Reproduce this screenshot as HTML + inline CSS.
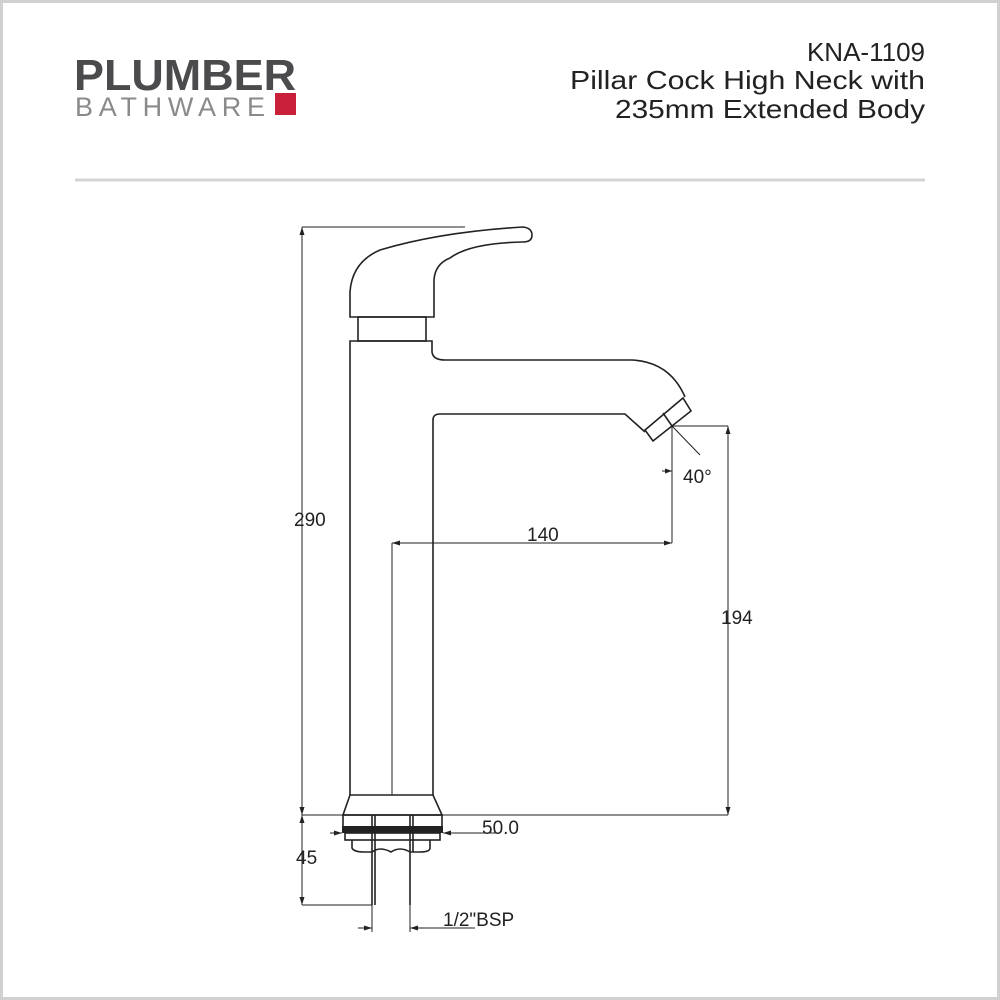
<!DOCTYPE html>
<html><head><meta charset="utf-8"><style>
html,body{margin:0;padding:0;background:#fff}
svg{display:block}
</style></head><body>
<svg width="1000" height="1000" viewBox="0 0 1000 1000" xmlns="http://www.w3.org/2000/svg" font-family="Liberation Sans, sans-serif">
<rect x="1.5" y="1.5" width="997" height="997" fill="#fff" stroke="#d0d0d0" stroke-width="3"/>
<!-- logo -->
<text x="74" y="90" font-size="44" font-weight="bold" fill="#4b4b4d" textLength="222" lengthAdjust="spacingAndGlyphs">PLUMBER</text>
<text x="75" y="116" font-size="27" fill="#8a8a8a" textLength="190" lengthAdjust="spacing">BATHWARE</text>
<rect x="275" y="93" width="21" height="22" fill="#c8203a"/>
<!-- title -->
<g font-size="26" fill="#222" text-anchor="end">
<text x="925" y="61">KNA-1109</text>
<text x="925" y="89" textLength="355" lengthAdjust="spacingAndGlyphs">Pillar Cock High Neck with</text>
<text x="925" y="118" textLength="310" lengthAdjust="spacingAndGlyphs">235mm Extended Body</text>
</g>
<line x1="75" y1="180" x2="925" y2="180" stroke="#d4d4d4" stroke-width="3"/>
<!-- drawing -->
<g fill="none" stroke="#222" stroke-width="1.6">
<path d="M350,317 L350,292 Q352,262 380,250 Q440,232 523,227 Q532,228 532,235 Q532,242 523,242 Q470,243 450,258 Q435,264 434,280 L434,317 Z"/>
<rect x="358" y="317" width="68" height="24"/>
<path d="M350,795 L350,341 L432,341 L432,352 Q433,360 445,360 L632,360 Q670,362 685,397"/>
<path d="M433,795 L433,420 Q433,414 440,414 L625,414 L645,432"/>
<path d="M645,430 L683,398 L691,411 L653,441 Z"/>
<path d="M663,413 L672,426"/>
<path d="M350,795 L433,795 L442,815 L343,815 Z"/>
<rect x="343" y="815" width="99" height="12"/>
<rect x="345" y="833" width="95" height="7"/>
<path d="M352,840 L352,848 Q354,852 364,852 L372,852 M410,852 L420,852 Q430,852 430,848 L430,840"/>
<path d="M372,852 Q380,846 391,852 Q400,846 410,852"/>
<path d="M372,815 L372,905 M410,815 L410,905 M375,815 L375,905 M413,815 L413,852"/>
</g>
<rect x="342" y="826" width="101" height="7" fill="#222"/>
<!-- dimensions -->
<g fill="none" stroke="#222" stroke-width="1">
<line x1="302" y1="227" x2="302" y2="815"/>
<line x1="302" y1="227" x2="465" y2="227"/>
<line x1="302" y1="815" x2="728" y2="815"/>
<line x1="302" y1="815" x2="302" y2="905"/>
<line x1="302" y1="905" x2="372" y2="905"/>
<line x1="392" y1="543" x2="392" y2="795"/>
<line x1="392" y1="543" x2="672" y2="543"/>
<line x1="672" y1="426" x2="672" y2="543"/>
<line x1="672" y1="426" x2="728" y2="426"/>
<line x1="728" y1="426" x2="728" y2="815"/>
<line x1="330" y1="833" x2="342" y2="833"/>
<line x1="443" y1="833" x2="500" y2="833"/>
<line x1="372" y1="905" x2="372" y2="932"/>
<line x1="410" y1="905" x2="410" y2="932"/>
<line x1="358" y1="928" x2="372" y2="928"/>
<line x1="410" y1="928" x2="475" y2="928"/>
<line x1="672" y1="426" x2="700" y2="455"/>
<line x1="662" y1="471" x2="672" y2="471"/>
</g>
<g fill="#222">
<path d="M302,227 l-2.5,8 h5 Z"/>
<path d="M302,815 l-2.5,-8 h5 Z"/>
<path d="M302,815 l-2.5,8 h5 Z"/>
<path d="M302,905 l-2.5,-8 h5 Z"/>
<path d="M392,543 l8,-2.5 v5 Z"/>
<path d="M672,543 l-8,-2.5 v5 Z"/>
<path d="M728,426 l-2.5,8 h5 Z"/>
<path d="M728,815 l-2.5,-8 h5 Z"/>
<path d="M342,833 l-8,-2.5 v5 Z"/>
<path d="M443,833 l8,-2.5 v5 Z"/>
<path d="M372,928 l-8,-2.5 v5 Z"/>
<path d="M410,928 l8,-2.5 v5 Z"/>
<path d="M672,471 l-7,-2.5 v5 Z"/>
</g>
<g font-size="19" fill="#222">
<text x="294" y="526">290</text>
<text x="527" y="541">140</text>
<text x="721" y="624">194</text>
<text x="683" y="483">40°</text>
<text x="482" y="834">50.0</text>
<text x="296" y="864">45</text>
<text x="443" y="926">1/2"BSP</text>
</g>
</svg>
</body></html>
